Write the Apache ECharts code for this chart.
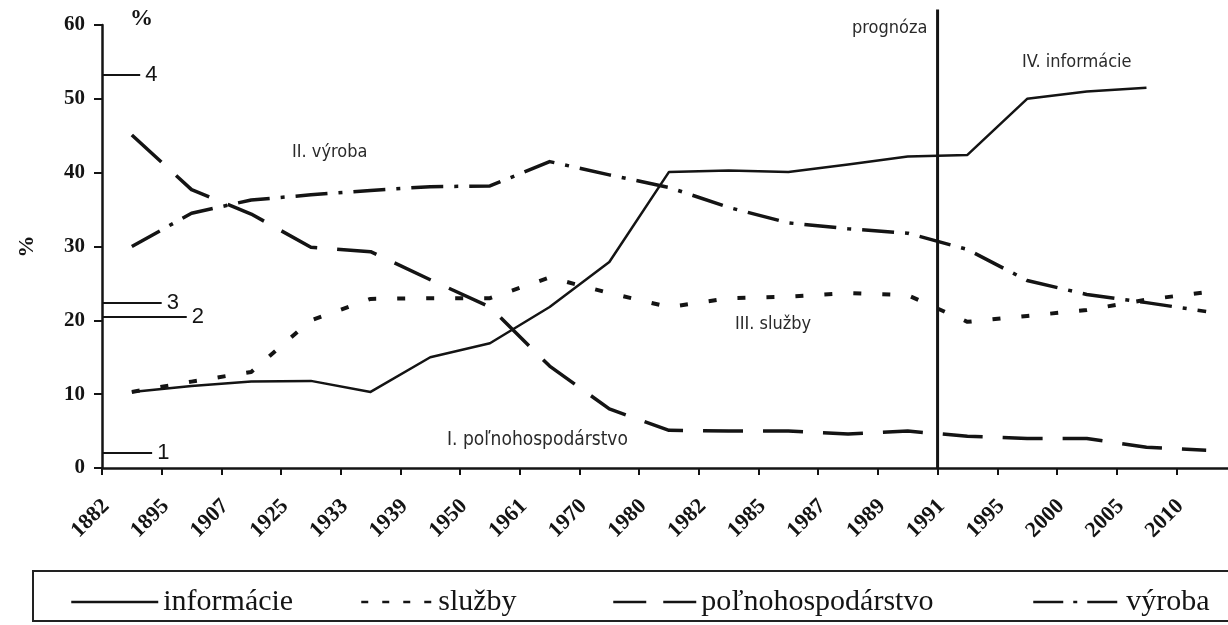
<!DOCTYPE html>
<html>
<head>
    <meta charset="UTF-8">
    <title>Sektory hospodárstva</title>
    <script src="https://cdn.jsdelivr.net/npm/echarts/dist/echarts.min.js"></script>
    <style>
        html, body { margin: 0; padding: 0; background: #fff; }
        #chart { width: 1228px; height: 625px; }
    </style>
</head>
<body>
    <div id="chart"></div>
    <script type="text/javascript">
        // roky na osi x
        var years = ['1882', '1895', '1907', '1925', '1933', '1939', '1950', '1961', '1970', '1980',
                     '1982', '1985', '1987', '1989', '1991', '1995', '2000', '2005', '2010'];

        // podiely sektorov v %
        var informacie = [10.3, 11.1, 11.7, 11.8, 10.3, 15.0, 16.9, 21.8, 27.9, 40.1,
                          40.3, 40.1, 41.1, 42.2, 42.4, 50.0, 51.0, 51.5, null];
        var sluzby = [10.3, 11.7, 13.0, 20.0, 22.9, 23.0, 23.0, 25.8, 23.7, 21.8,
                      23.0, 23.2, 23.7, 23.4, 19.8, 20.6, 21.4, 22.8, 23.8];
        var polnohospodarstvo = [45.1, 37.7, 34.4, 29.9, 29.3, 25.5, 21.8, 13.8, 8.0, 5.1,
                                 5.0, 5.0, 4.6, 5.0, 4.3, 4.0, 4.0, 2.8, 2.4];
        var vyroba = [30.0, 34.5, 36.3, 37.0, 37.6, 38.1, 38.2, 41.5, 39.7, 38.0,
                      35.3, 33.2, 32.4, 31.8, 29.6, 25.4, 23.5, 22.4, 21.2];

        // znacky 1-4 pri osi y
        var markerNames = ['1', '2', '3', '4'];
        var markerLevels = [2.0, 20.5, 22.4, 53.3];

        var prognozaYear = '1991';

        var ink = '#141414';
        var serif = "'Liberation Serif', 'Times New Roman', serif";
        var narrow = "'Liberation Sans Narrow', 'DejaVu Sans Condensed', sans-serif";

        // body v strede medzi dielikmi
        function points(arr) {
            var out = [];
            arr.forEach(function (v, i) {
                if (v != null) out.push([i + 0.5, v]);
            });
            return out;
        }

        function lineSeries(name, arr, width, dash) {
            return {
                name: name,
                type: 'line',
                xAxisIndex: 0,
                yAxisIndex: 0,
                data: points(arr),
                symbol: 'none',
                silent: true,
                lineStyle: { color: ink, width: width, type: dash, cap: 'butt', join: 'round' },
                itemStyle: { color: ink }
            };
        }

        var markerEnds = [0.84, 1.42, 1.0, 0.64];
        var markerData = markerLevels.map(function (v, i) {
            return [{ name: markerNames[i], coord: [0, v] }, { coord: [markerEnds[i], v] }];
        });

        var px = years.indexOf(prognozaYear);

        function legendFor(name, left, width, dash) {
            return {
                data: [name],
                left: left,
                top: 587,
                padding: 0,
                itemWidth: width,
                itemHeight: 2,
                selectedMode: false,
                itemStyle: { color: 'rgba(0,0,0,0)', borderWidth: 0, opacity: 0 },
                lineStyle: { width: 2.5, type: dash, cap: 'butt', color: ink },
                textStyle: { fontFamily: serif, fontSize: 30, color: ink }
            };
        }

        var myChart = echarts.init(document.getElementById('chart'));

        var option = {
            backgroundColor: '#fff',
            animation: false,
            grid: [
                { left: 102, width: 1134, top: 25, bottom: 157, outerBoundsMode: 'none', containLabel: false },
                { left: 106, width: 1134, top: 25, bottom: 157, outerBoundsMode: 'none', containLabel: false }
            ],
            xAxis: [
                {
                    type: 'value', gridIndex: 0, min: 0, max: 19, interval: 1,
                    axisLine: { show: true, lineStyle: { color: ink, width: 2.5 } },
                    axisTick: { show: true, length: 7, lineStyle: { color: ink, width: 2 } },
                    axisLabel: { show: false },
                    splitLine: { show: false }
                },
                {
                    type: 'value', gridIndex: 1, min: 0, max: 19, interval: 1,
                    axisLine: { show: false },
                    axisTick: { show: false },
                    splitLine: { show: false },
                    axisLabel: {
                        rotate: 45,
                        margin: 35,
                        fontFamily: serif,
                        fontWeight: 'bold',
                        fontSize: 22,
                        color: ink,
                        formatter: function (v) { return years[v] || ''; }
                    }
                }
            ],
            yAxis: [
                {
                    type: 'value', gridIndex: 0, min: 0, max: 60, interval: 10,
                    name: '%',
                    nameLocation: 'middle',
                    nameRotate: 90,
                    nameGap: 64,
                    nameTextStyle: { fontFamily: serif, fontWeight: 'bold', fontSize: 22, color: ink },
                    axisLine: { show: true, lineStyle: { color: ink, width: 2.5 } },
                    axisTick: { show: true, length: 8, lineStyle: { color: ink, width: 2 } },
                    axisLabel: { margin: 17, fontFamily: serif, fontWeight: 'bold', fontSize: 21, color: ink },
                    splitLine: { show: false }
                },
                {
                    type: 'value', gridIndex: 1, min: 0, max: 60, show: false
                }
            ],
            legend: [
                legendFor('informácie', 70, 87, 'solid'),
                legendFor('služby', 360, 72, [7, 14]),
                legendFor('poľnohospodárstvo', 612, 83, [33, 17]),
                legendFor('výroba', 1032, 88, [30, 10, 4, 10])
            ],
            graphic: [
                { type: 'rect', shape: { x: 33, y: 571, width: 1215, height: 50 },
                  style: { fill: 'none', stroke: '#222', lineWidth: 2 }, silent: true },
                { type: 'text', left: 130, top: 8,
                  style: { text: '%', font: 'bold 23px ' + serif, fill: ink } },
                { type: 'text', left: 292, top: 143,
                  style: { text: 'II. výroba', font: '18px ' + narrow, fill: '#2a2a2a' } },
                { type: 'text', left: 735, top: 315,
                  style: { text: 'III. služby', font: '18px ' + narrow, fill: '#2a2a2a' } },
                { type: 'text', left: 447, top: 431,
                  style: { text: 'I. poľnohospodárstvo', font: '19px ' + narrow, fill: '#2a2a2a' } },
                { type: 'text', left: 852, top: 19,
                  style: { text: 'prognóza', font: '18px ' + narrow, fill: '#2a2a2a' } },
                { type: 'text', left: 1022, top: 53,
                  style: { text: 'IV. informácie', font: '18px ' + narrow, fill: '#2a2a2a' } }
            ],
            series: [
                lineSeries('informácie', informacie, 2.5, 'solid'),
                lineSeries('služby', sluzby, 4, [8, 21]),
                lineSeries('poľnohospodárstvo', polnohospodarstvo, 3.5, [40, 20]),
                lineSeries('výroba', vyroba, 3.5, [32, 11, 4, 11]),
                {
                    name: 'prognoza',
                    type: 'line',
                    data: [[px, 0], [px, 62.1]],
                    clip: false,
                    symbol: 'none',
                    silent: true,
                    lineStyle: { color: ink, width: 3 }
                },
                {
                    name: 'znacky',
                    type: 'line',
                    data: [],
                    silent: true,
                    markLine: {
                        silent: true,
                        symbol: ['none', 'none'],
                        animation: false,
                        lineStyle: { color: ink, width: 2, type: 'solid' },
                        label: {
                            position: 'end',
                            distance: 5,
                            formatter: '{b}',
                            fontFamily: "'Liberation Sans', Arial, sans-serif",
                            fontSize: 22,
                            color: ink
                        },
                        emphasis: { disabled: true },
                        data: markerData
                    }
                }
            ]
        };

        myChart.setOption(option);
    </script>
</body>
</html>
